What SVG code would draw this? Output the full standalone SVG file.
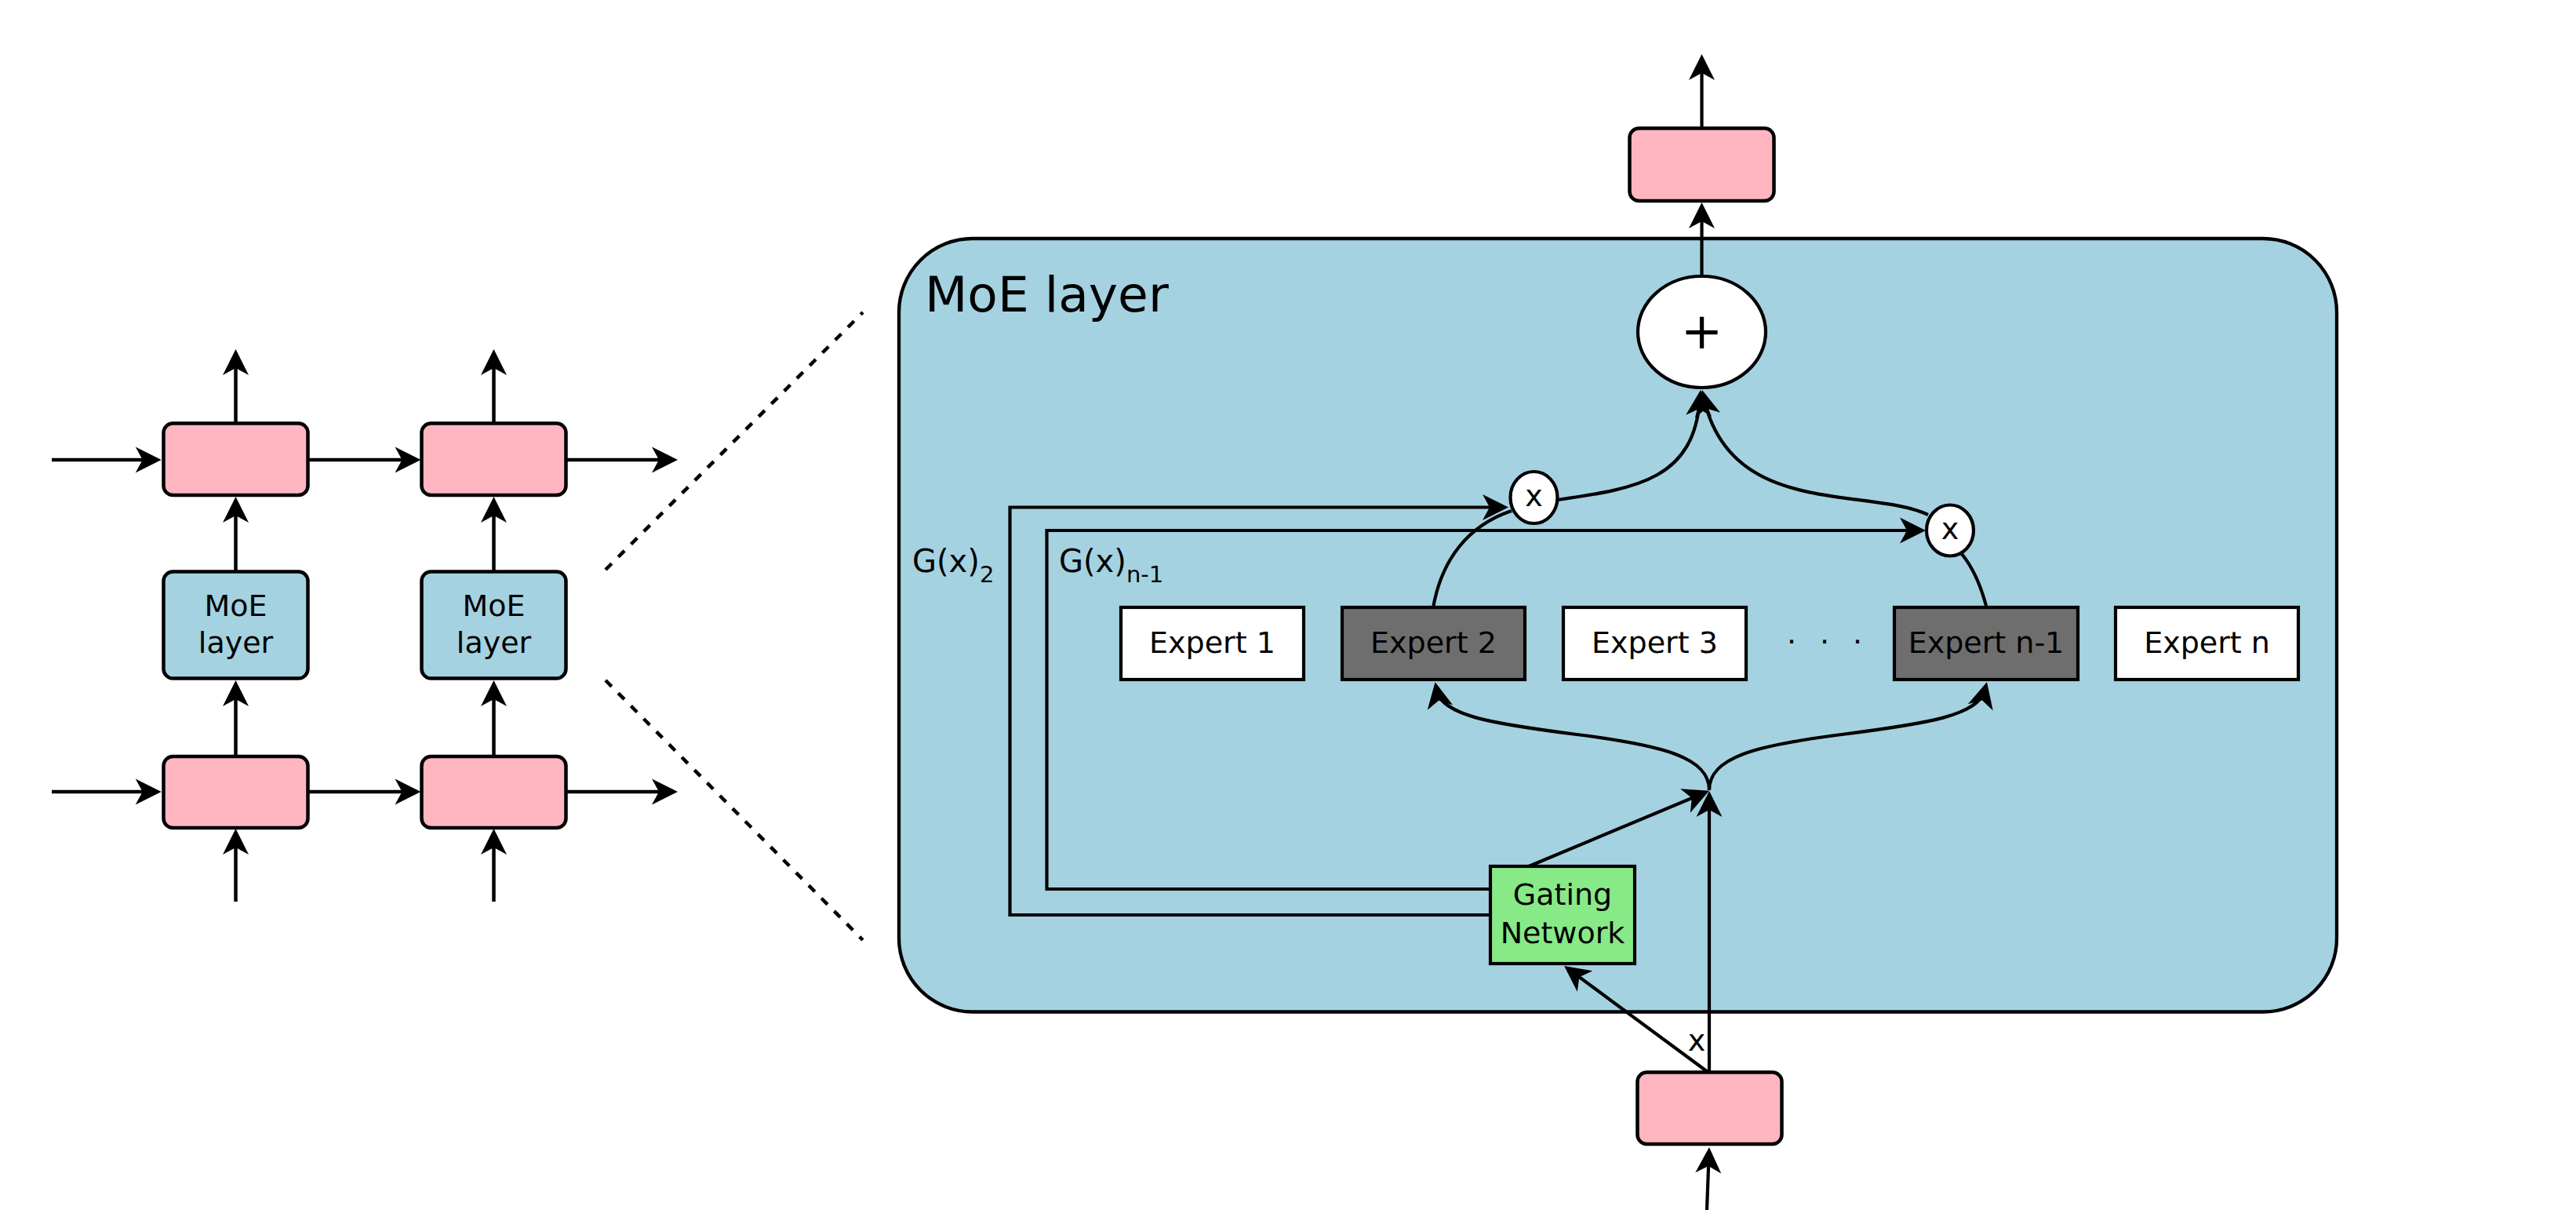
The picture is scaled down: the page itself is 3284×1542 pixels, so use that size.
<svg xmlns="http://www.w3.org/2000/svg" width="3284" height="1542" viewBox="0 0 3284 1542">
<style>
text{font-family:"DejaVu Sans","Liberation Sans",sans-serif;fill:#000}
.t38{font-size:38px}
.mid{text-anchor:middle}
.pink{fill:#ffb6c1;stroke:#000;stroke-width:4.5}
.blue{fill:#a5d2e1;stroke:#000;stroke-width:4.5}
.exp{fill:#fff;stroke:#000;stroke-width:4.2}
.expd{fill:#6e6e6e;stroke:#000;stroke-width:4.2}
.ln{fill:none;stroke:#000;stroke-width:4.5}
.lr{fill:none;stroke:#000;stroke-width:4.2}
.arr{marker-end:url(#ah)}
.dash{fill:none;stroke:#000;stroke-width:4.5;stroke-dasharray:11 12}
.circ{fill:#fff;stroke:#000;stroke-width:4.2}
</style>
<defs>
<marker id="ah" markerUnits="userSpaceOnUse" markerWidth="60" markerHeight="60" viewBox="-40 -30 60 60" refX="0" refY="0" orient="auto" overflow="visible">
<path d="M10,0 L-23,-16.5 L-14,0 L-23,16.5 Z" fill="#000"/>
</marker>
</defs>
<rect width="3284" height="1542" fill="#fff"/>

<!-- MoE layer container -->
<g id="moe-container">
<rect x="1146" y="304" width="1833" height="985.5" rx="94" ry="94" fill="#a5d2e1" stroke="#000" stroke-width="4.3"/>
<text x="1179" y="397" style="font-size:63px">MoE layer</text>
</g>

<!-- connectors -->
<g id="connectors">
<!-- left diagram -->
<path class="ln arr" d="M66,586 H195.7"/>
<path class="ln arr" d="M392.5,586 H526.5"/>
<path class="ln arr" d="M721.5,586 H854"/>
<path class="ln arr" d="M66,1009 H195.7"/>
<path class="ln arr" d="M392.5,1009 H526.5"/>
<path class="ln arr" d="M721.5,1009 H854"/>
<path class="ln arr" d="M300.5,539.5 V455"/>
<path class="ln arr" d="M300.5,728.5 V643"/>
<path class="ln arr" d="M300.5,964 V877"/>
<path class="ln arr" d="M300.5,1149 V1066"/>
<path class="ln arr" d="M629.5,539.5 V455"/>
<path class="ln arr" d="M629.5,728.5 V643"/>
<path class="ln arr" d="M629.5,964 V877"/>
<path class="ln arr" d="M629.5,1149 V1066"/>
<path class="dash" d="M772,726 L1100,398"/>
<path class="dash" d="M772,867 L1100,1198"/>
<!-- MoE internals -->
<path class="lr arr" d="M2169.5,163.5 V79"/>
<path class="lr arr" d="M2169.5,352 V268"/>
<path class="lr arr" d="M1986,637 C2090,622 2160,610 2167.3,507"/>
<path class="lr arr" d="M2458,656 C2380,620 2205,660 2172.1,506.8"/>
<path class="lr arr" d="M1900,1166 H1287.5 V646.5 H1913"/>
<path class="lr arr" d="M1900,1133 H1334.5 V676 H2445"/>
<path class="lr" d="M1827.5,772 C1838,715 1870,670 1927,651"/>
<path class="lr" d="M2532,772 C2524,742 2514,722 2501,706"/>
<path class="lr arr" d="M2179,1366.5 V1018"/>
<path class="lr arr" d="M1949,1104 L2169.7,1011.7"/>
<path class="lr arr" d="M2177,1366 L2002.1,1236.9"/>
<path class="lr arr" d="M2176,1542 L2178.6,1472"/>
<path class="lr arr" d="M2179,1007 C2179,965 2120,950 2010,936 C1900,922 1838,912 1831.5,879"/>
<path class="lr arr" d="M2179,1007 C2179,965 2238,950 2348,936 C2458,922 2522,912 2530.5,879"/>
</g>

<!-- left diagram nodes -->
<g id="l-top-1"><rect class="pink" x="208.5" y="539.5" width="184" height="91.5" rx="12"/></g>
<g id="l-top-2"><rect class="pink" x="537.5" y="539.5" width="184" height="91.5" rx="12"/></g>
<g id="l-moe-1"><rect class="blue" x="208.5" y="728.5" width="184" height="136" rx="12"/>
<text class="t38 mid" x="300.5" y="785">MoE</text><text class="t38 mid" x="300.5" y="832">layer</text></g>
<g id="l-moe-2"><rect class="blue" x="537.5" y="728.5" width="184" height="136" rx="12"/>
<text class="t38 mid" x="629.5" y="785">MoE</text><text class="t38 mid" x="629.5" y="832">layer</text></g>
<g id="l-bot-1"><rect class="pink" x="208.5" y="964" width="184" height="91" rx="12"/></g>
<g id="l-bot-2"><rect class="pink" x="537.5" y="964" width="184" height="91" rx="12"/></g>

<!-- right diagram nodes -->
<g id="out-box"><rect class="pink" x="2077.5" y="163.5" width="184" height="92.5" rx="12"/></g>
<g id="in-box"><rect class="pink" x="2087.5" y="1366.5" width="184" height="91.5" rx="12"/></g>
<g id="sum"><ellipse class="circ" cx="2169.5" cy="423" rx="81.5" ry="71"/>
<text class="mid" x="2169.5" y="444" style="font-size:64px">+</text></g>
<g id="mul-2"><ellipse class="circ" cx="1955.5" cy="634" rx="30" ry="33"/>
<text class="t38 mid" x="1955.5" y="645">x</text></g>
<g id="mul-n1"><ellipse class="circ" cx="2486" cy="676" rx="30" ry="32.5"/>
<text class="t38 mid" x="2486" y="687">x</text></g>
<g id="expert-1"><rect class="exp" x="1429" y="774" width="233" height="92"/>
<text class="t38 mid" x="1545.5" y="832">Expert 1</text></g>
<g id="expert-2"><rect class="expd" x="1711" y="774" width="233" height="92"/>
<text class="t38 mid" x="1827.5" y="832">Expert 2</text></g>
<g id="expert-3"><rect class="exp" x="1993" y="774" width="233" height="92"/>
<text class="t38 mid" x="2109.5" y="832">Expert 3</text></g>
<g id="dots"><text class="t38" x="2278 2320 2362" y="819.5">...</text></g>
<g id="expert-n1"><rect class="expd" x="2415" y="774" width="234" height="92"/>
<text class="t38 mid" x="2532" y="832">Expert n-1</text></g>
<g id="expert-n"><rect class="exp" x="2697" y="774" width="233" height="92"/>
<text class="t38 mid" x="2813.5" y="832">Expert n</text></g>
<g id="gating"><rect x="1900" y="1104" width="184" height="124" fill="#87ea87" stroke="#000" stroke-width="4.2"/>
<text class="t38 mid" x="1992" y="1153">Gating</text><text class="t38 mid" x="1992" y="1202">Network</text></g>

<!-- labels -->
<g id="labels">
<text x="1163" y="729" style="font-size:40px">G(x)<tspan dy="13" style="font-size:29px">2</tspan></text>
<text x="1350" y="729" style="font-size:40px">G(x)<tspan dy="13" style="font-size:29px">n-1</tspan></text>
<text class="t38 mid" x="2163" y="1339">x</text>
</g>
</svg>
